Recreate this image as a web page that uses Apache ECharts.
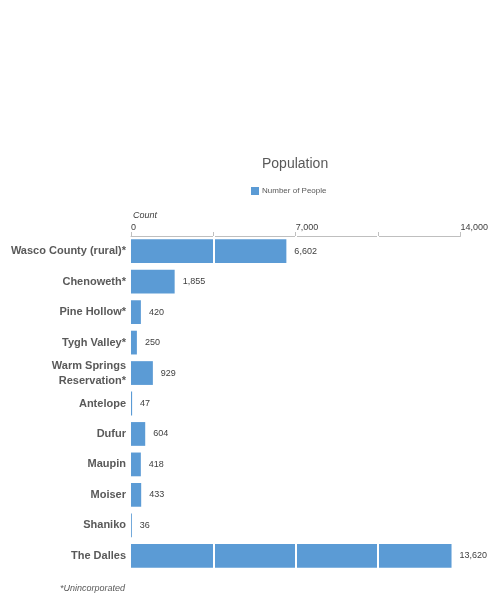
<!DOCTYPE html>
<html>
<head>
<meta charset="utf-8">
<script src="https://cdn.jsdelivr.net/npm/echarts@6/dist/echarts.min.js"></script>
<style>
  html, body { margin: 0; padding: 0; background: #ffffff; }
  #chart { width: 491px; height: 613px; }
</style>
</head>
<body>
<div id="chart"></div>
<script>
// Population by place, Wasco County
const places = [
  'Wasco County (rural)*', 'Chenoweth*', 'Pine Hollow*', 'Tygh Valley*',
  'Warm Springs\nReservation*', 'Antelope', 'Dufur', 'Maupin', 'Moiser',
  'Shaniko', 'The Dalles'
];
const people = [6602, 1855, 420, 250, 929, 47, 604, 418, 433, 36, 13620];
const gridValues = [3500, 7000, 10500];

const labelFont = 'Liberation Sans, Arial, sans-serif';
const fmt = v => v.toLocaleString('en-US');
const chart = echarts.init(document.getElementById('chart'));

chart.setOption({
  animation: false,
  backgroundColor: '#ffffff',
  title: [
    {
      text: 'Population',
      left: 257, top: 152,
      textStyle: { fontFamily: labelFont, fontSize: 14, fontWeight: 'normal', color: '#595959' }
    },
    {
      text: 'Count',
      left: 128, top: 206,
      textStyle: { fontFamily: labelFont, fontSize: 9, fontStyle: 'italic', fontWeight: 'normal', color: '#404040' }
    },
    {
      text: '*Unincorporated',
      left: 55, top: 579,
      textStyle: { fontFamily: labelFont, fontSize: 9, fontStyle: 'italic', fontWeight: 'normal', color: '#595959' }
    }
  ],
  legend: {
    data: [{ name: 'Number of People', icon: 'rect' }],
    left: 246, top: 182,
    itemWidth: 8, itemHeight: 8, itemGap: 4,
    textStyle: { fontFamily: labelFont, fontSize: 8, color: '#595959', padding: [0, 0, 0, -2] }
  },
  grid: { left: 131, right: 28, top: 236, height: 335, containLabel: false },
  xAxis: {
    type: 'value',
    position: 'top',
    min: 0, max: 14000, interval: 3500,
    axisLine: { show: true, lineStyle: { color: '#bfbfbf', width: 1 } },
    axisTick: { show: true, length: 4, lineStyle: { color: '#bfbfbf' } },
    splitLine: { show: false },
    axisLabel: {
      align: 'left',
      margin: 4,
      fontFamily: labelFont, fontSize: 9, color: '#404040',
      formatter: v => (v % 7000 === 0 ? fmt(v) : '')
    }
  },
  yAxis: {
    type: 'category',
    inverse: true,
    data: places,
    axisLine: { show: false },
    axisTick: { show: false },
    axisLabel: {
      margin: 5,
      fontFamily: labelFont, fontSize: 11, fontWeight: 'bold', color: '#595959',
      lineHeight: 15
    }
  },
  series: [
    {
      name: 'Number of People',
      type: 'bar',
      data: people,
      barCategoryGap: '22%',
      itemStyle: { color: '#5b9bd5' },
      // white gridlines drawn across the bars
      markLine: {
        silent: true,
        symbol: 'none',
        label: { show: false },
        lineStyle: { color: '#ffffff', type: 'solid', width: 2 },
        data: gridValues.map(v => ({ xAxis: v }))
      },
      z: 2
    },
    {
      // transparent overlay carrying the value labels above the gridlines
      name: 'labels',
      type: 'bar',
      data: people,
      barGap: '-100%',
      barCategoryGap: '22%',
      itemStyle: { color: 'rgba(0,0,0,0)' },
      silent: true,
      label: {
        show: true,
        position: 'right',
        distance: 8,
        fontFamily: labelFont, fontSize: 9, color: '#404040',
        formatter: p => fmt(p.value)
      },
      z: 10
    }
  ]
});
</script>
</body>
</html>
